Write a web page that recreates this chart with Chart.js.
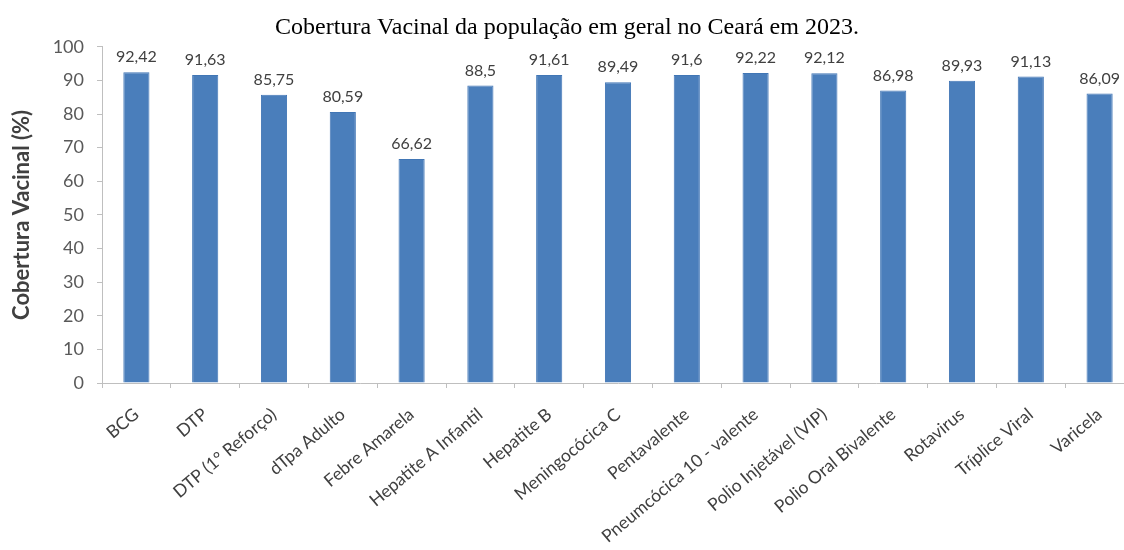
<!DOCTYPE html>
<html><head><meta charset="utf-8">
<script src="https://cdn.jsdelivr.net/npm/chart.js@4.4.0/dist/chart.umd.min.js"></script>
<style>html,body{margin:0;padding:0;background:#fff;overflow:hidden}#wrap{width:1134px;height:550px}</style>
</head><body><div id="wrap"><canvas id="c" width="1134" height="550"></canvas></div>
<script>
const categories = ["BCG","DTP","DTP (1° Reforço)","dTpa Adulto","Febre Amarela","Hepatite A Infantil","Hepatite B","Meningocócica C","Pentavalente","Pneumcócica 10 - valente","Polio Injetável (VIP)","Polio Oral Bivalente","Rotavirus","Tríplice Viral","Varicela"];
const coverage = [92.42,91.63,85.75,80.59,66.62,88.5,91.61,89.49,91.6,92.22,92.12,86.98,89.93,91.13,86.09];
const yTicks = [0,10,20,30,40,50,60,70,80,90,100];
const titleText = "Cobertura Vacinal da população em geral no Ceará em 2023.";
const yTitle = "Cobertura Vacinal (%)";

const labelPlugin = {
  id:'vals',
  afterDatasetsDraw(chart){
    const ctx = chart.ctx;
    const meta = chart.getDatasetMeta(0);
    ctx.save();
    ctx.font = '16px Lato, "Open Sans", sans-serif';
    ctx.fillStyle = '#404040';
    ctx.textAlign = 'center';
    ctx.textBaseline = 'bottom';
    meta.data.forEach((bar,i)=>{
      const txt = String(coverage[i]).replace('.',',');
      ctx.fillText(txt, bar.x, bar.y - 7);
    });
    ctx.restore();
  }
};

new Chart(document.getElementById('c'),{
  type:'bar',
  data:{labels:categories,datasets:[{data:coverage,backgroundColor:'#4a7ebb',borderColor:'#4176b5',borderWidth:1,barPercentage:0.76,categoryPercentage:0.5}]},
  options:{
    responsive:false,animation:false,
    layout:{padding:0},
    plugins:{
      legend:{display:false},tooltip:{enabled:false},
      title:{display:true,text:titleText,color:'#000',font:{family:'"Liberation Serif","Times New Roman",serif',size:24,weight:'normal',lineHeight:1.2},padding:{top:13,bottom:5}}
    },
    scales:{
      x:{
        grid:{drawOnChartArea:false,drawTicks:true,tickLength:5,color:'#bfbfbf'},
        border:{color:'#bfbfbf'},
        ticks:{color:'#404040',font:{family:'Lato, "Open Sans", sans-serif',size:17.5},maxRotation:40,minRotation:40,padding:16,autoSkip:false},
        afterFit(s){s.height=167;}
      },
      y:{
        min:0,max:100,
        afterBuildTicks(s){s.ticks=yTicks.map(v=>({value:v}));},
        grid:{drawOnChartArea:false,drawTicks:true,tickLength:5,color:'#bfbfbf'},
        border:{color:'#bfbfbf'},
        ticks:{color:'#595959',font:{family:'Lato, "Open Sans", sans-serif',size:18},padding:13},
        title:{display:true,text:yTitle,color:'#404040',font:{family:'Lato, "Open Sans", sans-serif',size:22,weight:'bold',lineHeight:1.2},padding:{top:9,bottom:0}},
        afterFit(s){s.width=102;}
      }
    }
  },
  plugins:[labelPlugin]
});
</script></body></html>
